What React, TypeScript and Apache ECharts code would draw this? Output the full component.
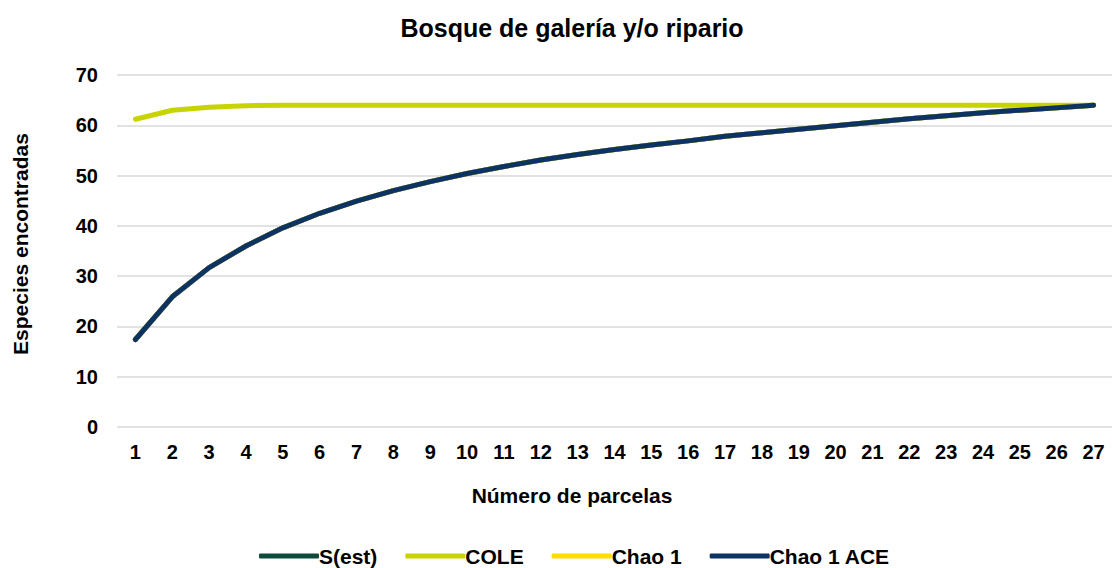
import React, { useEffect, useRef } from "react";
import * as echarts from "echarts";

const categories = ["1","2","3","4","5","6","7","8","9","10","11","12","13","14","15","16","17","18","19","20","21","22","23","24","25","26","27"];
const sEst = [17.4, 25.9, 31.7, 36.0, 39.6, 42.5, 44.9, 47.0, 48.8, 50.4, 51.8, 53.1, 54.2, 55.2, 56.1, 56.9, 57.8, 58.5, 59.2, 59.9, 60.6, 61.3, 61.9, 62.5, 63.0, 63.5, 64.0];
const cole = [61.2, 63.0, 63.6, 63.9, 64.0, 64.0, 64.0, 64.0, 64.0, 64.0, 64.0, 64.0, 64.0, 64.0, 64.0, 64.0, 64.0, 64.0, 64.0, 64.0, 64.0, 64.0, 64.0, 64.0, 64.0, 64.0, 64.0];
const chao1 = [17.4, 25.9, 31.7, 36.0, 39.6, 42.5, 44.9, 47.0, 48.8, 50.4, 51.8, 53.1, 54.2, 55.2, 56.1, 56.9, 57.8, 58.5, 59.2, 59.9, 60.6, 61.3, 61.9, 62.5, 63.0, 63.5, 64.0];
const chao1Ace = [17.4, 25.9, 31.7, 36.0, 39.6, 42.5, 44.9, 47.0, 48.8, 50.4, 51.8, 53.1, 54.2, 55.2, 56.1, 56.9, 57.8, 58.5, 59.2, 59.9, 60.6, 61.3, 61.9, 62.5, 63.0, 63.5, 64.0];
const seriesNames = ["S(est)", "COLE", "Chao 1", "Chao 1 ACE"];
const seriesColors = ["#0e4a3b", "#c8d400", "#ffdd00", "#0d3363"];

const FONT = "'Liberation Sans', Arial, sans-serif";

export default function App() {
  const ref = useRef<HTMLDivElement>(null);
  useEffect(() => {
    document.body.style.margin = "0";
    const chart = echarts.init(ref.current!, null, { renderer: "svg" });
    const data = [sEst, cole, chao1, chao1Ace];
    chart.setOption({
      animation: false,
      backgroundColor: "#ffffff",
      textStyle: { fontFamily: FONT },
      graphic: [
        {
          type: "text",
          x: 572,
          y: 28,
          style: {
            text: "Bosque de galería y/o ripario",
            font: `bold 25px ${FONT}`,
            fill: "#000",
            align: "center",
            verticalAlign: "middle",
          },
        },
        {
          type: "text",
          x: 572,
          y: 495,
          style: {
            text: "Número de parcelas",
            font: `bold 21px ${FONT}`,
            fill: "#000",
            align: "center",
            verticalAlign: "middle",
          },
        },
        {
          type: "text",
          x: 20,
          y: 244,
          rotation: Math.PI / 2,
          style: {
            text: "Especies encontradas",
            font: `bold 21px ${FONT}`,
            fill: "#000",
            align: "center",
            verticalAlign: "middle",
          },
        },
      ],
      legend: {
        left: 259,
        top: 544,
        padding: 0,
        data: seriesNames,
        icon: "roundRect",
        itemWidth: 60,
        itemHeight: 5,
        itemGap: 28,
        textStyle: { fontFamily: FONT, fontWeight: "bold", fontSize: 21, lineHeight: 24, color: "#000", padding: [0, 0, 0, -5] },
      },
      grid: { left: 117, top: 75, width: 1003, height: 352, containLabel: false },
      xAxis: {
        type: "category",
        data: categories,
        boundaryGap: true,
        axisLine: { show: false },
        axisTick: { show: false },
        axisLabel: { fontFamily: FONT, fontWeight: "bold", fontSize: 20, color: "#000", margin: 15, interval: 0 },
      },
      yAxis: {
        type: "value",
        min: 0,
        max: 70,
        interval: 10,
        axisLine: { show: false },
        axisTick: { show: false },
        splitLine: { lineStyle: { color: "#d9d9d9", width: 1.5 } },
        axisLabel: { fontFamily: FONT, fontWeight: "bold", fontSize: 20, color: "#000", margin: 19 },
      },
      series: seriesNames.map((name, i) => ({
        name,
        type: "line",
        data: data[i],
        showSymbol: false,
        symbol: "none",
        lineStyle: { color: seriesColors[i], width: 5, cap: "round", join: "round" },
        itemStyle: { color: seriesColors[i] },
      })),
    });
    return () => chart.dispose();
  }, []);
  return <div ref={ref} style={{ width: 1112, height: 568 }} />;
}
